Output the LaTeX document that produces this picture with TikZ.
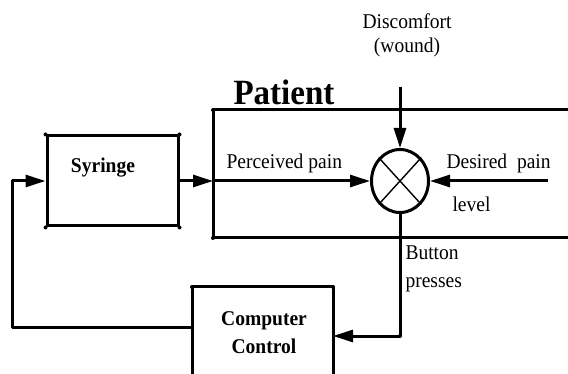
\documentclass[tikz,border=0pt]{standalone}
\usepackage{fontspec}
\setmainfont[FakeStretch=0.93]{Liberation Serif}
\usetikzlibrary{arrows.meta,shapes.geometric}
\begin{document}
\begin{tikzpicture}[x=1pt,y=-1pt, line width=3pt, line join=round,
 arr/.style={-{Triangle[length=20pt,width=12pt]}},
 lbl/.style={font=\fontsize{21}{24}\selectfont, inner sep=0pt, align=center},
 blbl/.style={font=\fontsize{21}{28}\selectfont\bfseries, inner sep=0pt, align=center},
 blk/.style={draw, inner sep=0pt},
 dot/.style={fill, circle, inner sep=0pt, minimum size=4pt}]
\useasboundingbox (0,0) rectangle (568,374);
% Syringe
\node[blk, minimum width=131pt, minimum height=90pt] (syr) at (112.5,181) {};
\node[blbl] (syrtxt) at (103,168) {Syringe};
\foreach \a in {north west,north east,south west,south east}
  \node[dot] at (syr.\a) {};
% Patient box (open to the right)
\coordinate (pTL) at (213,110);
\coordinate (pBL) at (213,238);
\coordinate (pTR) at (570,110);
\coordinate (pBR) at (570,238);
\draw (pTR) -- (pTL) -- (pBL) -- (pBR);
\node[dot] at (pTL) {};
\node[dot] at (pBL) {};
\node[font=\fontsize{35.5}{35}\selectfont\bfseries, inner sep=0pt, anchor=base west] (pat) at (232,105) {Patient};
% Summing junction
\node[draw, ellipse, minimum width=57pt, minimum height=63pt, inner sep=0pt] (sum) at (400,181) {};
\draw[line width=1.4pt] (sum.north west) -- (sum.south east);
\draw[line width=1.4pt] (sum.north east) -- (sum.south west);
% Discomfort
\node[lbl] (disc) at (407,35) {Discomfort\\(wound)};
\coordinate (dtop) at (400,87);
\draw[arr] (dtop) -- (sum.north);
% Perceived pain
\coordinate (pin) at (213,181);
\draw[arr] (syr.east) -- (pin);
\draw[arr] (pin) -- (sum.west);
\node[lbl, anchor=base west] (perc) at (225,169) {Perceived pain};
% Desired pain
\coordinate (dstart) at (548,181);
\draw[arr] (dstart) -- (sum.east);
\node[lbl, anchor=base west] (des) at (445,169) {Desired\ \ pain};
\node[lbl, anchor=base west] (lev) at (451,212) {level};
% Computer control box (open at the bottom)
\coordinate (cTL) at (192,287);
\coordinate (cTR) at (333,287);
\coordinate (cBL) at (192,376);
\coordinate (cBR) at (333,376);
\draw (cBL) -- (cTL) -- (cTR) -- (cBR);
\node[dot] at (cTL) {};
\node[dot] at (cTR) {};
\node[blbl] (comp) at (264,333) {Computer\\Control};
% Button presses
\coordinate (bp) at (400,336);
\coordinate (cR) at (333,336);
\draw (sum.south) -- (bp);
\draw[arr] (bp) -- (cR);
\node[dot] at (bp) {};
\node[lbl, anchor=west, align=left, font=\fontsize{21}{28}\selectfont] (btn) at (404,269) {Button\\presses};
% Feedback to syringe
\coordinate (cL) at (192,327);
\coordinate (fb1) at (12,327);
\coordinate (fb2) at (12,181);
\draw[arr] (cL) -- (fb1) -- (fb2) -- (syr.west);
\end{tikzpicture}
\end{document}
